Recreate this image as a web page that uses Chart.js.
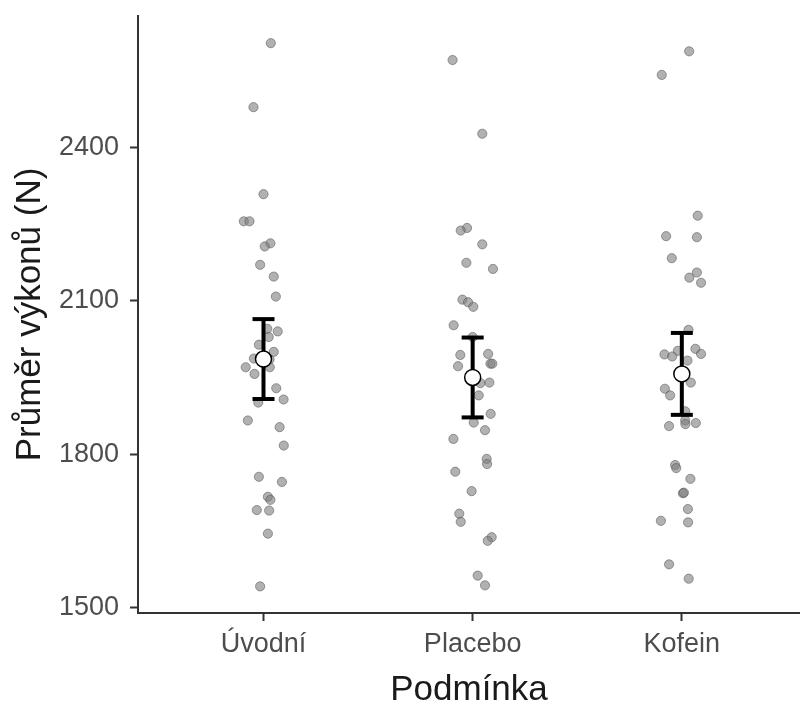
<!DOCTYPE html>
<html>
<head>
<meta charset="utf-8">
<script src="https://cdn.jsdelivr.net/npm/chart.js@4.4.1/dist/chart.umd.min.js"></script>
<style>
    html, body { margin: 0; padding: 0; background: #fff; overflow: hidden; }
    #chart { display: block; }
</style>
</head>
<body>
<canvas id="chart" width="800" height="711"></canvas>
<script>
const CATEGORIES = ["Úvodní", "Placebo", "Kofein"];
const Y_TICKS = [1500, 1800, 2100, 2400];

// individual values per condition and their horizontal jitter
const UVODNI = [2603, 2478, 2308, 2255, 2255, 2212, 2206, 2170, 2147, 2108, 2045, 2040, 2029, 2014, 2000, 1987, 1985, 1970, 1970, 1957, 1929, 1907, 1901, 1866, 1853, 1817, 1756, 1746, 1717, 1711, 1691, 1690, 1645, 1542];
const UVODNI_JIT = [0.035, -0.048, 0, -0.094, -0.067, 0.033, 0.006, -0.016, 0.049, 0.059, 0.018, 0.068, 0.025, -0.022, 0.049, -0.046, 0.029, -0.085, 0.03, -0.043, 0.061, 0.096, -0.025, -0.075, 0.077, 0.097, -0.022, 0.088, 0.021, 0.033, -0.032, 0.027, 0.021, -0.016];

const PLACEBO = [2570, 2426, 2242, 2237, 2210, 2174, 2162, 2102, 2097, 2088, 2052, 2029, 1994, 1996, 1977, 1977, 1972, 1939, 1940, 1915, 1879, 1862, 1847, 1830, 1791, 1781, 1766, 1728, 1684, 1668, 1638, 1631, 1563, 1544];
const PLACEBO_JIT = [-0.096, 0.046, -0.027, -0.057, 0.046, -0.03, 0.097, -0.049, -0.022, 0.003, -0.091, 0, -0.059, 0.074, 0.085, 0.094, -0.07, 0.037, 0.08, 0.029, 0.086, 0.005, 0.059, -0.092, 0.067, 0.069, -0.083, -0.005, -0.064, -0.057, 0.091, 0.072, 0.024, 0.059];

const KOFEIN = [2587, 2541, 2266, 2226, 2224, 2183, 2155, 2145, 2135, 2043, 2006, 1996, 2002, 1995, 1991, 1983, 1940, 1928, 1915, 1884, 1866, 1859, 1861, 1855, 1779, 1773, 1752, 1724, 1725, 1693, 1670, 1667, 1585, 1557];
const KOFEIN_JIT = [0.035, -0.096, 0.076, -0.075, 0.072, -0.048, 0.072, 0.036, 0.092, 0.032, 0.065, 0.092, -0.019, -0.083, -0.046, 0.027, 0.043, -0.081, -0.056, 0.016, 0.016, 0.017, 0.067, -0.061, -0.032, -0.027, 0.041, 0.005, 0.01, 0.029, -0.1, 0.03, -0.061, 0.033];

const MEANS = [1986, 1950, 1957];
const ERRORS = [78, 78, 80];

const FONT = "'Liberation Sans', Arial, sans-serif";

const groups = [[UVODNI, UVODNI_JIT], [PLACEBO, PLACEBO_JIT], [KOFEIN, KOFEIN_JIT]];
const rawPoints = [];
groups.forEach(([vals, jit], i) => {
    vals.forEach((v, j) => rawPoints.push({ x: i + 1 + jit[j], y: v }));
});

const meanPoints = MEANS.map((m, i) => ({ x: i + 1, y: m }));
const capPoints = [];
MEANS.forEach((m, i) => {
    capPoints.push({ x: i + 1, y: m - ERRORS[i] });
    capPoints.push({ x: i + 1, y: m + ERRORS[i] });
});
const stemSets = MEANS.map((m, i) => ({
    type: "line",
    data: [{ x: i + 1, y: m - ERRORS[i] }, { x: i + 1, y: m + ERRORS[i] }],
    borderColor: "#000",
    borderWidth: 4,
    pointRadius: 0,
    order: 2,
}));

// the axes should not reserve room for overhanging tick labels
function noPadding(axis) {
    axis.paddingTop = 0;
    axis.paddingBottom = 0;
    axis.paddingLeft = 0;
    axis.paddingRight = 0;
}

new Chart(document.getElementById("chart"), {
    type: "scatter",
    data: {
        datasets: [
            {
                data: meanPoints,
                pointRadius: 8,
                pointBackgroundColor: "#fff",
                pointBorderColor: "#000",
                pointBorderWidth: 1.5,
                order: 0,
            },
            {
                data: capPoints,
                pointStyle: "line",
                pointRadius: 11,
                pointBorderColor: "#000",
                pointBorderWidth: 4,
                order: 1,
            },
            ...stemSets,
            {
                data: rawPoints,
                pointRadius: 4.6,
                pointBackgroundColor: "rgba(125,125,125,0.6)",
                pointBorderColor: "rgba(85,85,85,0.55)",
                pointBorderWidth: 1,
                order: 3,
            },
        ],
    },
    options: {
        responsive: false,
        animation: false,
        layout: { autoPadding: false, padding: { top: 16, left: 0, right: 0, bottom: 0 } },
        plugins: { legend: { display: false }, tooltip: { enabled: false } },
        scales: {
            x: {
                type: "linear",
                min: 0.4,
                max: 3.565,
                afterBuildTicks: (axis) => { axis.ticks = CATEGORIES.map((c, i) => ({ value: i + 1 })); },
                afterFit: (axis) => { axis.height = 98; noPadding(axis); },
                ticks: {
                    callback: (v) => CATEGORIES[v - 1],
                    color: "#4d4d4d",
                    font: { family: FONT, size: 27 },
                    padding: 7,
                    maxRotation: 0,
                },
                grid: { drawOnChartArea: false, tickLength: 8, tickWidth: 2, tickColor: "#333" },
                border: { color: "#333", width: 2 },
                title: {
                    display: true,
                    text: "Podmínka",
                    color: "#1a1a1a",
                    font: { family: FONT, size: 35 },
                    padding: { top: 0, bottom: 0 },
                },
            },
            y: {
                min: 1490,
                max: 2656,
                afterBuildTicks: (axis) => { axis.ticks = Y_TICKS.map((v) => ({ value: v })); },
                afterFit: (axis) => { axis.width = 138; noPadding(axis); },
                ticks: {
                    callback: (v) => String(v),
                    color: "#4d4d4d",
                    font: { family: FONT, size: 27 },
                    padding: 11,
                },
                grid: { drawOnChartArea: false, tickLength: 8, tickWidth: 2, tickColor: "#333" },
                border: { color: "#333", width: 2 },
                title: {
                    display: true,
                    text: "Průměr výkonů (N)",
                    color: "#1a1a1a",
                    font: { family: FONT, size: 35 },
                    padding: { top: 9, bottom: 0 },
                },
            },
        },
    },
});
</script>
</body>
</html>
